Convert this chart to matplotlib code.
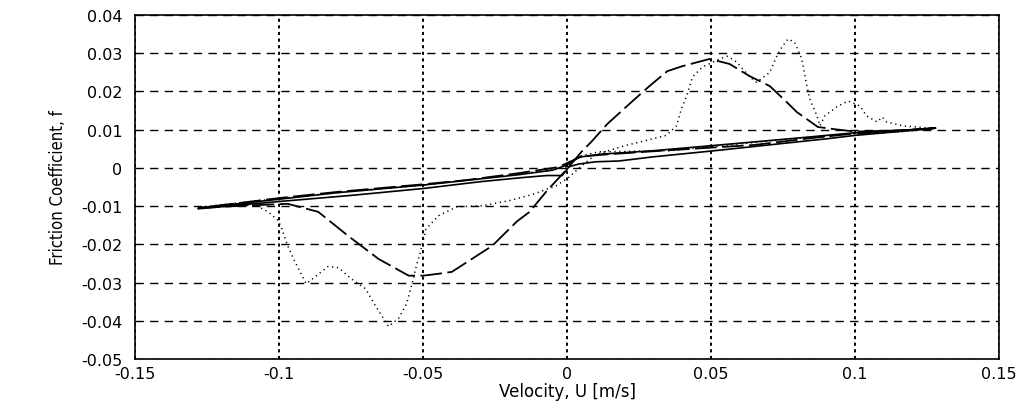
import matplotlib
matplotlib.use("Agg")
import matplotlib.pyplot as plt
from matplotlib import font_manager

# friction coefficient vs velocity, three loops

# solid curve (narrow loop)
solid_u = [-0.128, -0.10, -0.075, -0.05, -0.03, -0.015, -0.007, -0.0017, 0.0007, 0.004, 0.01, 0.018,
           0.03, 0.05, 0.07, 0.09, 0.10, 0.115, 0.128,
           0.115, 0.10, 0.08, 0.05, 0.03, 0.012, 0.004, 0.0, -0.005, -0.017, -0.05, -0.08, -0.10, -0.128]
solid_f = [-0.0107, -0.0088, -0.0072, -0.0054, -0.0036, -0.0025, -0.002, -0.002, 0.0003, 0.001, 0.0016, 0.0018,
           0.0029, 0.0044, 0.006, 0.0076, 0.0085, 0.0095, 0.0104,
           0.0098, 0.0092, 0.0078, 0.0058, 0.0045, 0.0036, 0.0028, 0.0008, -0.0006, -0.0018, -0.0045, -0.0065, -0.0082, -0.0105]

# dashed curve (large loop)
dashed_u = [-0.128, -0.11, -0.097, -0.0864, -0.076, -0.0655, -0.055, -0.05, -0.0446, -0.04, -0.026,
            -0.0174, -0.013, -0.007, 0.0, 0.005, 0.0084, 0.014, 0.0216, 0.0286, 0.0348, 0.04, 0.0495,
            0.0564, 0.0634, 0.0704, 0.0763, 0.0798, 0.0871, 0.092, 0.10, 0.115, 0.128,
            0.11, 0.10, 0.085, 0.065, 0.035, 0.015, 0.005, -0.003, -0.017, -0.035, -0.05, -0.08, -0.10, -0.128]
dashed_f = [-0.0105, -0.0098, -0.0094, -0.0115, -0.0178, -0.0238, -0.0282, -0.0282, -0.0277, -0.0272, -0.0204,
            -0.014, -0.0115, -0.006, -0.0003, 0.0042, 0.0068, 0.0115, 0.0167, 0.0214, 0.0253, 0.0266, 0.0285,
            0.0272, 0.024, 0.0214, 0.0172, 0.0146, 0.0107, 0.0102, 0.0095, 0.0098, 0.0104,
            0.0093, 0.009, 0.0078, 0.006, 0.0046, 0.0036, 0.003, 0.0002, -0.0014, -0.0032, -0.0043, -0.0063, -0.0079, -0.0105]

# dotted curve (loop with the extra bumps)
dotted_u = [-0.128, -0.115, -0.108, -0.1038, -0.1003, -0.099, -0.097, -0.095, -0.0927, -0.0906, -0.0875,
            -0.083, -0.0794, -0.0749, -0.070, -0.0666, -0.062, -0.0585, -0.0557, -0.054, -0.0523, -0.0509,
            -0.049, -0.0446, -0.0383, -0.0296, -0.0202, -0.0122, -0.0038, 0.0007, 0.005, 0.01, 0.02, 0.0345,
            0.038, 0.0397, 0.0415, 0.0436, 0.047, 0.053, 0.0557, 0.0589, 0.0634, 0.0658, 0.0704, 0.0728,
            0.0746, 0.0767, 0.079, 0.0815, 0.0833, 0.0843, 0.0868, 0.0878, 0.0895, 0.0937, 0.0976, 0.1017,
            0.104, 0.1077, 0.1094, 0.111, 0.1167, 0.1216, 0.128,
            0.1167, 0.098, 0.0868, 0.075, 0.063, 0.0495, 0.0355, 0.02, 0.011, 0.004, 0.0, -0.005, -0.0167,
            -0.035, -0.05, -0.08, -0.10, -0.128]
dotted_f = [-0.0105, -0.0098, -0.0098, -0.0115, -0.0138, -0.016, -0.0204, -0.0238, -0.0272, -0.0303, -0.0285,
            -0.0258, -0.0261, -0.029, -0.0316, -0.036, -0.0415, -0.0394, -0.0355, -0.0308, -0.0256, -0.022,
            -0.016, -0.0125, -0.0102, -0.0099, -0.0086, -0.007, -0.0047, -0.0024, 0.0005, 0.0035, 0.0058, 0.0085,
            0.011, 0.0154, 0.0188, 0.0238, 0.0264, 0.0285, 0.0292, 0.0277, 0.0238, 0.0224, 0.025, 0.0292,
            0.0316, 0.0337, 0.0329, 0.0285, 0.0214, 0.018, 0.0136, 0.011, 0.0136, 0.016, 0.0175, 0.0162,
            0.0136, 0.012, 0.0133, 0.012, 0.011, 0.0107, 0.0103,
            0.0095, 0.0089, 0.0081, 0.0074, 0.0065, 0.0055, 0.0045, 0.0043, 0.0042, 0.003, 0.0003, -0.0005, -0.0016,
            -0.0032, -0.0045, -0.0065, -0.008, -0.0103]

xticks = [-0.15, -0.1, -0.05, 0, 0.05, 0.1, 0.15]
xtick_labels = ["-0.15", "-0.1", "-0.05", "0", "0.05", "0.1", "0.15"]
yticks = [-0.05, -0.04, -0.03, -0.02, -0.01, 0, 0.01, 0.02, 0.03, 0.04]
ytick_labels = ["-0.05", "-0.04", "-0.03", "-0.02", "-0.01", "0", "0.01", "0.02", "0.03", "0.04"]

# the y label in the scan is a condensed face
names = {f.name for f in font_manager.fontManager.ttflist}
narrow = "Liberation Sans Narrow" if "Liberation Sans Narrow" in names else "DejaVu Sans"

fig = plt.figure(figsize=(10.31, 4.06), dpi=100)
ax = fig.add_axes([0.131, 0.1133, 0.838, 0.8473])

ax.plot(solid_u, solid_f, color="black", lw=1.2, linestyle="-")
ax.plot(dashed_u, dashed_f, color="black", lw=1.3, dashes=(12, 3))
ax.plot(dotted_u, dotted_f, color="black", lw=1.1, dashes=(0.8, 2.4))

ax.set_xlim(-0.15, 0.15)
ax.set_ylim(-0.05, 0.04)
ax.set_xticks(xticks)
ax.set_xticklabels(xtick_labels)
ax.set_yticks(yticks)
ax.set_yticklabels(ytick_labels)

# matlab style grid: dashed horizontal, dense dotted vertical
ax.yaxis.grid(True, color="black", lw=1.0, dashes=(6, 4.5))
ax.xaxis.grid(True, color="black", lw=1.4, dashes=(1.6, 1.8))

ax.tick_params(length=0, labelsize=11.5)
ax.tick_params(axis="y", pad=9)
ax.tick_params(axis="x", pad=5)
for s in ax.spines.values():
    s.set_linewidth(1.2)

ax.set_xlabel("Velocity, U [m/s]", fontsize=12, labelpad=1)
ax.set_ylabel("Friction Coefficient, f", fontsize=12, family=narrow,
              fontstretch="condensed", labelpad=10)

fig.savefig("out.png", dpi=100)
